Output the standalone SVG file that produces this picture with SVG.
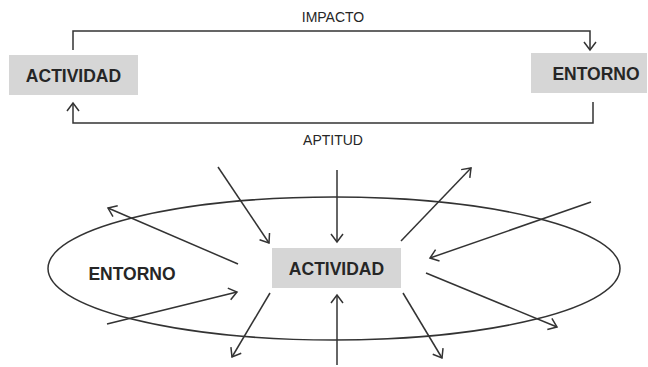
<svg xmlns="http://www.w3.org/2000/svg" width="648" height="367" viewBox="0 0 648 367">
<style>
.box{fill:#d6d6d6;}
.lbl{font-family:"Liberation Sans","Open Sans",sans-serif;font-weight:bold;font-size:17.5px;fill:#262626;text-anchor:middle;}
.elbl{font-family:"Liberation Sans","Open Sans",sans-serif;font-size:14px;fill:#262626;text-anchor:middle;}
.ln{fill:none;stroke:#333;stroke-width:1.5;marker-end:url(#ah);}
</style>
<defs>
<marker id="ah" markerUnits="userSpaceOnUse" markerWidth="14" markerHeight="14" viewBox="0 0 14 14" refX="12" refY="7" orient="auto">
<path d="M4,1 L12,7 L4,13" fill="none" stroke="#333" stroke-width="1.5"/>
</marker>
</defs>
<g id="connectors">
<polyline class="ln" points="73,50 73,31 590,31 590,50"/>
<polyline class="ln" points="593,102 593,123 73,123 73,103"/>
<line class="ln" x1="218" y1="167" x2="269" y2="243"/>
<line class="ln" x1="337" y1="170" x2="337" y2="242"/>
<line class="ln" x1="401" y1="241" x2="471" y2="168"/>
<line class="ln" x1="591" y1="202" x2="430" y2="258"/>
<line class="ln" x1="426" y1="273" x2="557" y2="327"/>
<line class="ln" x1="403" y1="293" x2="442" y2="358"/>
<line class="ln" x1="337" y1="365" x2="337" y2="295"/>
<line class="ln" x1="270" y1="293" x2="232" y2="357"/>
<line class="ln" x1="107" y1="324" x2="237" y2="292"/>
<line class="ln" x1="238" y1="264" x2="108" y2="208"/>
</g>
<g id="label-impacto"><text class="elbl" x="333" y="22">IMPACTO</text></g>
<g id="label-aptitud"><text class="elbl" x="333" y="145">APTITUD</text></g>
<g id="actividad-top">
<rect class="box" x="9" y="55" width="129" height="40"/>
<text class="lbl" x="73.5" y="81.5">ACTIVIDAD</text>
</g>
<g id="entorno-top">
<rect class="box" x="531" y="53" width="116" height="40"/>
<text class="lbl" x="596" y="79.5">ENTORNO</text>
</g>
<g id="entorno-ellipse">
<ellipse cx="334" cy="268.5" rx="286" ry="71.5" fill="none" stroke="#333" stroke-width="1.5"/>
<text class="lbl" x="132" y="280">ENTORNO</text>
</g>
<g id="actividad-bottom">
<rect class="box" x="272" y="248" width="129" height="40"/>
<text class="lbl" x="336.5" y="274.5">ACTIVIDAD</text>
</g>
</svg>
